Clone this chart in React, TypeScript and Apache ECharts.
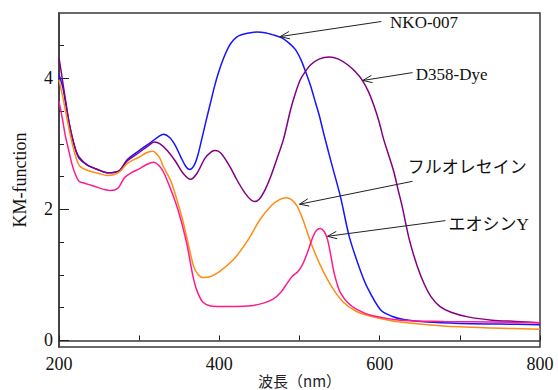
import React, { useEffect, useRef } from 'react';
import * as echarts from 'echarts';

// NKO-007 (blue)
const nkoX = [200, 205, 209, 213, 217, 221, 225, 235, 250, 260, 270, 276, 285, 300, 315, 325, 330, 338, 345, 352, 358, 363, 368, 373, 378, 383, 389, 394, 399, 405, 412, 418, 424, 435, 447, 457, 466, 478, 487, 495, 502, 508, 514, 520, 525, 530, 540, 551, 562, 575, 585, 601, 615, 630, 660, 700, 750, 800];
const nkoY = [4.06, 3.85, 3.57, 3.3, 3.07, 2.9, 2.78, 2.68, 2.6, 2.56, 2.57, 2.6, 2.76, 2.9, 3.03, 3.12, 3.15, 3.1, 2.98, 2.8, 2.66, 2.61, 2.66, 2.82, 3.07, 3.33, 3.63, 3.88, 4.09, 4.3, 4.49, 4.59, 4.65, 4.69, 4.71, 4.7, 4.67, 4.62, 4.54, 4.44, 4.28, 4.09, 3.88, 3.63, 3.42, 3.17, 2.7, 2.2, 1.59, 1.1, 0.8, 0.47, 0.37, 0.32, 0.28, 0.26, 0.25, 0.24];

// D358-Dye (purple)
const d358X = [200, 204, 209, 213, 217, 221, 225, 235, 250, 260, 270, 276, 285, 300, 312, 319, 326, 335, 345, 355, 364, 372, 382, 390, 395, 402, 412, 422, 432, 440, 444, 450, 457, 464, 472, 480, 489, 495, 501, 507, 514, 525, 537, 548, 560, 570, 578, 586, 593, 599, 605, 612, 618, 623, 628, 637, 647, 656, 664, 675, 689, 710, 740, 770, 800];
const d358Y = [4.32, 4.0, 3.6, 3.3, 3.08, 2.9, 2.8, 2.68, 2.6, 2.56, 2.57, 2.6, 2.74, 2.87, 2.98, 3.03, 3.0, 2.9, 2.74, 2.55, 2.46, 2.55, 2.78, 2.88, 2.9, 2.86, 2.68, 2.45, 2.25, 2.14, 2.12, 2.16, 2.3, 2.5, 2.78, 3.07, 3.53, 3.78, 3.98, 4.1, 4.21, 4.3, 4.33, 4.3, 4.21, 4.1, 3.98, 3.8, 3.58, 3.35, 3.07, 2.8, 2.56, 2.3, 2.05, 1.54, 1.13, 0.85, 0.67, 0.52, 0.43, 0.36, 0.31, 0.29, 0.27];

// フルオレセイン (orange)
const fluoX = [200, 205, 209, 213, 217, 221, 226, 235, 250, 260, 268, 276, 285, 300, 310, 317, 325, 330, 340, 347, 354, 360, 368, 374, 380, 390, 400, 418, 435, 451, 465, 475, 483, 490, 497, 505, 514, 524, 535, 545, 555, 570, 589, 626, 680, 740, 800];
const fluoY = [3.98, 3.7, 3.45, 3.2, 2.98, 2.8, 2.66, 2.6, 2.55, 2.52, 2.53, 2.58, 2.7, 2.8, 2.87, 2.89, 2.8, 2.66, 2.42, 2.15, 1.85, 1.54, 1.13, 1.0, 0.96, 0.98, 1.05, 1.24, 1.52, 1.85, 2.06, 2.15, 2.18, 2.15, 2.05, 1.82, 1.5, 1.2, 0.93, 0.73, 0.58, 0.45, 0.37, 0.28, 0.22, 0.19, 0.17];

// エオシンY (pink)
const eosX = [200, 204, 208, 212, 216, 220, 225, 232, 240, 250, 258, 264, 270, 274, 278, 282, 290, 300, 310, 318, 324, 330, 338, 347, 354, 360, 368, 374, 380, 388, 397, 420, 439, 455, 467, 477, 485, 491, 497, 501, 505, 511, 517, 521, 526, 531, 535, 539, 543, 547, 551, 560, 572, 590, 626, 680, 740, 800];
const eosY = [3.65, 3.4, 3.12, 2.91, 2.7, 2.55, 2.43, 2.4, 2.37, 2.33, 2.3, 2.29, 2.3, 2.33, 2.41, 2.49, 2.56, 2.62, 2.69, 2.72, 2.68, 2.58, 2.35, 2.05, 1.75, 1.44, 0.93, 0.7, 0.58, 0.53, 0.52, 0.52, 0.53, 0.57, 0.63, 0.74, 0.88, 0.98, 1.04, 1.1, 1.19, 1.38, 1.59, 1.68, 1.71, 1.66, 1.54, 1.3, 1.04, 0.86, 0.73, 0.58, 0.47, 0.38, 0.31, 0.29, 0.28, 0.27];

const seriesNames = ['NKO-007', 'D358-Dye', 'フルオレセイン', 'エオシンY'];
const xTickLabels = [200, 400, 600, 800];
const yTickLabels = [0, 2, 4];
const yMinorTicks = [0, 0.5, 1, 1.5, 2, 2.5, 3, 3.5, 4, 4.5];

const colors = ['#1414ff', '#820082', '#ff8c14', '#ff1a8c'];

const annotations = [
  { label: 'NKO-007', tip: [476, 4.64], tail: [602, 4.87], text: [613, 4.85] },
  { label: 'D358-Dye', tip: [579, 3.97], tail: [641, 4.09], text: [645, 4.06] },
  { label: 'フルオレセイン', tip: [500, 2.08], tail: [641, 2.43], text: [635, 2.64] },
  { label: 'エオシンY', tip: [535, 1.59], tail: [682, 1.83], text: [686, 1.77] },
];

const pair = (xs: number[], ys: number[]) => xs.map((x, i) => [x, ys[i]]);

const SERIF = 'Liberation Serif, Noto Sans CJK JP, serif';
const JP = 'Noto Sans CJK JP, sans-serif';

export default function App() {
  const ref = useRef<HTMLDivElement>(null);
  useEffect(() => {
    if (!ref.current) return;
    const chart = echarts.init(ref.current, undefined, { renderer: 'svg' });
    const datas = [pair(nkoX, nkoY), pair(d358X, d358Y), pair(fluoX, fluoY), pair(eosX, eosY)];
    chart.setOption({
      animation: false,
      backgroundColor: '#fff',
      grid: {
        left: 59, right: 18, top: 13, bottom: 43, outerBoundsMode: 'none', containLabel: false,
        show: true, borderColor: '#3a3a3a', borderWidth: 1.5, backgroundColor: 'transparent',
      },
      xAxis: {
        type: 'value', min: 200, max: 800, interval: 100,
        name: '波長（nm）', nameLocation: 'middle', nameGap: 26, nameMoveOverlap: false,
        nameTextStyle: { fontFamily: JP, fontSize: 15, color: '#222' },
        axisLine: { show: true, lineStyle: { color: '#3a3a3a', width: 1.5 } },
        axisTick: { show: true, inside: true, length: 5, lineStyle: { color: '#222' } },
        axisLabel: {
          margin: 8, fontFamily: SERIF, fontSize: 18, color: '#111',
          formatter: (v: number) => (xTickLabels.includes(v) ? String(v) : ''),
        },
        splitLine: { show: false },
      },
      yAxis: [
        {
          type: 'value', min: -0.1, max: 5.0,
          name: 'KM-function', nameLocation: 'middle', nameGap: 30, nameMoveOverlap: false,
          nameTextStyle: { fontFamily: SERIF, fontSize: 18, color: '#111' },
          axisLine: { show: true, lineStyle: { color: '#3a3a3a', width: 1.5 } },
          axisTick: { show: true, inside: true, length: 10, customValues: yTickLabels, lineStyle: { color: '#222' } },
          axisLabel: { margin: 6, fontFamily: SERIF, fontSize: 18, color: '#111', customValues: yTickLabels },
          splitLine: { show: false },
        },
        {
          type: 'value', min: -0.1, max: 5.0, position: 'left',
          axisLine: { show: false },
          axisTick: { show: true, inside: true, length: 5, customValues: yMinorTicks, lineStyle: { color: '#222' } },
          axisLabel: { show: false },
          splitLine: { show: false },
        },
      ],
      series: datas.map((d, i) => ({
        name: seriesNames[i],
        type: 'line',
        data: d,
        showSymbol: false,
        smooth: 0.3,
        lineStyle: { color: colors[i], width: 1.5 },
        itemStyle: { color: colors[i] },
        z: 2 + i,
      })),
    });

    const graphics: any[] = [];
    annotations.forEach((a) => {
      const tip = chart.convertToPixel({ gridIndex: 0 }, a.tip) as number[];
      const tail = chart.convertToPixel({ gridIndex: 0 }, a.tail) as number[];
      const tp = chart.convertToPixel({ gridIndex: 0 }, a.text) as number[];
      const ang = Math.atan2(tail[1] - tip[1], tail[0] - tip[0]);
      const hl = 10, ha = 0.38;
      const p1 = [tip[0] + hl * Math.cos(ang + ha), tip[1] + hl * Math.sin(ang + ha)];
      const p2 = [tip[0] + hl * Math.cos(ang - ha), tip[1] + hl * Math.sin(ang - ha)];
      graphics.push({ type: 'line', shape: { x1: tail[0], y1: tail[1], x2: tip[0], y2: tip[1] }, style: { stroke: '#222', lineWidth: 1 }, z: 10 });
      graphics.push({ type: 'polyline', shape: { points: [p1, tip, p2] }, style: { stroke: '#222', lineWidth: 1, fill: null }, z: 10 });
      graphics.push({
        type: 'text', x: tp[0], y: tp[1], z: 10,
        style: { text: a.label, fontFamily: SERIF, fontSize: 17, fill: '#111', verticalAlign: 'middle', align: 'left' },
      });
    });
    chart.setOption({ graphic: graphics });

    return () => chart.dispose();
  }, []);
  return <div ref={ref} style={{ position: 'fixed', left: 0, top: 0, width: 558, height: 390 }} />;
}
